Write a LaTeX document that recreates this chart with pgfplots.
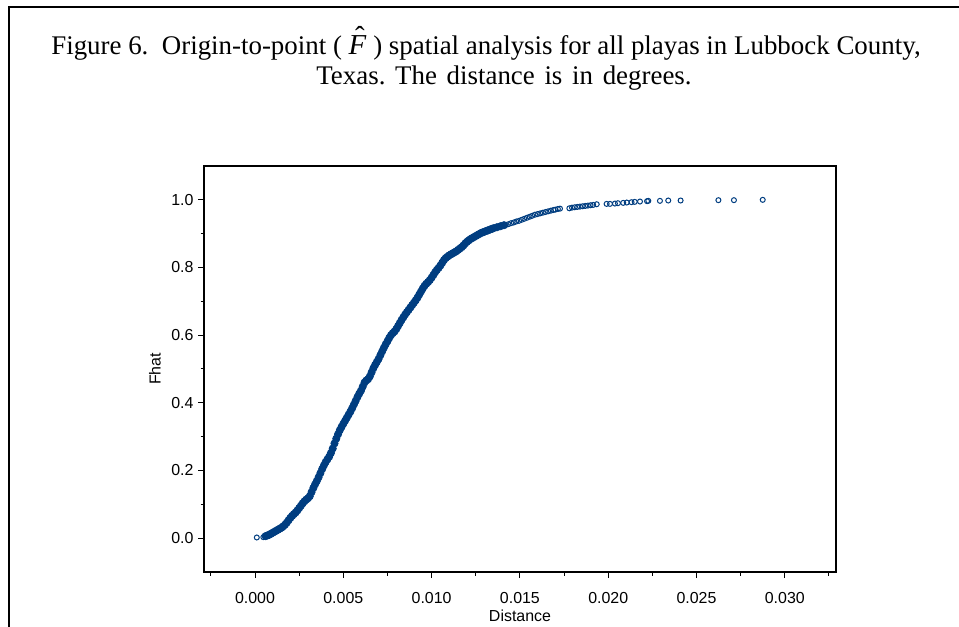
\documentclass[border=0pt]{standalone}
\usepackage{fontspec}
\setmainfont{Liberation Sans}
\newfontfamily\titlefont{Liberation Serif}
\usepackage{pgfplots}
\pgfplotsset{compat=1.18}
\definecolor{markblue}{RGB}{0,61,128}
\frenchspacing
\newcommand{\Fhat}{{\fontsize{29}{32}\selectfont\makebox[0pt][l]{\itshape F}\makebox[0.62em][c]{\hspace{0.16em}\raisebox{0.30em}{\char"02C6}}}}
\begin{document}
\begin{tikzpicture}
\useasboundingbox (0,0) rectangle (959bp,627bp);
\draw[line width=2.2bp] (9bp,-2bp) -- (9bp,620bp) -- (962bp,620bp);
\node[anchor=base, inner sep=0pt, font=\titlefont\fontsize{27}{32}\selectfont] at (486bp,572bp) {Figure 6.\ \ Origin-to-point ( \Fhat\ ) spatial analysis for all playas in Lubbock County,};
\node[anchor=base, inner sep=0pt, font=\titlefont\fontsize{27}{32}\selectfont] at (504bp,542bp) {\spaceskip=0.36em Texas. The distance is in degrees.};
\begin{axis}[
  at={(204bp,55bp)}, anchor=south west,
  scale only axis, width=632bp, height=406bp,
  xmin=-0.00289, xmax=0.0329, ymin=-0.1, ymax=1.1,
  axis line style={line width=1.5bp},
  tick align=outside, xtick pos=bottom, ytick pos=left,
  major tick length=6bp, minor tick length=3.5bp,
  every tick/.style={black, line width=1bp},
  xtick={0,0.005,0.01,0.015,0.02,0.025,0.03},
  minor xtick={-0.0025,0.0025,0.0075,0.0125,0.0175,0.0225,0.0275,0.0325},
  ytick={0,0.2,0.4,0.6,0.8,1.0},
  minor ytick={0.1,0.3,0.5,0.7,0.9},
  scaled x ticks=false, scaled y ticks=false,
  /pgf/number format/assume math mode=true,
  xticklabel={\pgfmathprintnumber[fixed,fixed zerofill,precision=3,assume math mode=true]{\tick}},
  yticklabel={\pgfmathprintnumber[fixed,fixed zerofill,precision=1,assume math mode=true]{\tick}},
  tick label style={font=\fontsize{16}{18}\selectfont},
  xticklabel style={yshift=-11bp},
  yticklabel style={xshift=-1bp},
  label style={font=\fontsize{16}{18}\selectfont},
  xlabel={Distance}, ylabel={Fhat},
  xlabel style={at={(axis description cs:0.5,-0.0936)}, anchor=north, inner sep=0pt},
  ylabel style={at={(axis description cs:-0.0775,0.5)}, anchor=center, inner sep=0pt},
]
\addplot[only marks, mark=*, mark size=3.6bp, color=markblue, mark options={line width=0.8bp}] coordinates {
(0.0006,0.006) (0.0007,0.008) (0.0008,0.010) (0.0009,0.013) (0.0010,0.016)
(0.0011,0.019) (0.0012,0.022) (0.0013,0.025) (0.0014,0.028) (0.0015,0.031)
(0.0016,0.035) (0.0017,0.040) (0.0018,0.046) (0.0019,0.053) (0.0020,0.060)
(0.0021,0.066) (0.0022,0.071) (0.0023,0.076) (0.0024,0.082) (0.0025,0.089)
(0.0026,0.096) (0.0027,0.103) (0.0028,0.109) (0.0029,0.114) (0.0030,0.118)
(0.0031,0.124) (0.0032,0.136) (0.0033,0.148) (0.0034,0.159) (0.0035,0.169)
(0.0036,0.180) (0.0037,0.192) (0.0038,0.204) (0.0039,0.215) (0.0040,0.225)
(0.0041,0.233) (0.0042,0.241) (0.0043,0.252) (0.0044,0.265) (0.0045,0.280)
(0.0046,0.294) (0.0047,0.307) (0.0048,0.319) (0.0049,0.329) (0.0050,0.338)
(0.0051,0.347) (0.0052,0.356) (0.0053,0.365) (0.0054,0.374) (0.0055,0.384)
(0.0056,0.395) (0.0057,0.406) (0.0058,0.417) (0.0059,0.427) (0.0060,0.436)
(0.0061,0.448) (0.0062,0.460) (0.0063,0.466) (0.0064,0.470) (0.0065,0.478)
(0.0066,0.490) (0.0067,0.502) (0.0068,0.512) (0.0069,0.521) (0.0070,0.530)
(0.0071,0.541) (0.0072,0.552) (0.0073,0.563) (0.0074,0.573) (0.0075,0.582)
(0.0076,0.592) (0.0077,0.600) (0.0078,0.606) (0.0079,0.611) (0.0080,0.618)
(0.0081,0.627) (0.0082,0.636) (0.0083,0.645) (0.0084,0.653) (0.0085,0.661)
(0.0086,0.668) (0.0087,0.675) (0.0088,0.682) (0.0089,0.689) (0.0090,0.696)
(0.0091,0.703) (0.0092,0.711) (0.0093,0.720) (0.0094,0.729) (0.0095,0.738)
(0.0096,0.746) (0.0097,0.752) (0.0098,0.757) (0.0099,0.763) (0.0100,0.770)
(0.0101,0.778) (0.0102,0.786) (0.0103,0.793) (0.0104,0.799) (0.0105,0.806)
(0.0106,0.814) (0.0107,0.822) (0.0108,0.828) (0.0109,0.832) (0.0110,0.836)
(0.0111,0.839) (0.0112,0.842) (0.0113,0.845) (0.0114,0.848) (0.0115,0.852)
(0.0116,0.856) (0.0117,0.860) (0.0118,0.865) (0.0119,0.871) (0.0120,0.876)
(0.0121,0.880) (0.0122,0.884) (0.0123,0.887) (0.0124,0.890) (0.0125,0.893)
(0.0126,0.896) (0.0127,0.899) (0.0128,0.902) (0.0129,0.904) (0.0130,0.906)
(0.0131,0.908) (0.0132,0.910) (0.0133,0.912) (0.0134,0.914) (0.0135,0.916)
(0.0137,0.919) (0.0139,0.922) (0.0141,0.925)
};
\addplot[only marks, mark=o, mark size=2.5bp, color=markblue, mark options={line width=1bp}] coordinates {
(0.0001,0.002) (0.00047,0.003)
(0.0142,0.926)
(0.01435,0.928) (0.0145,0.931) (0.01465,0.933) (0.0148,0.936) (0.01495,0.938)
(0.0151,0.941) (0.01525,0.944) (0.0154,0.947) (0.01555,0.950) (0.0157,0.953)
(0.01585,0.956) (0.0160,0.958) (0.01615,0.960) (0.0163,0.962) (0.01645,0.964)
(0.0166,0.966) (0.01675,0.968) (0.0169,0.970) (0.0170,0.971) (0.01715,0.973)
(0.01727,0.974)
(0.0178,0.975) (0.01795,0.977) (0.0181,0.978) (0.01825,0.979) (0.0184,0.980)
(0.01855,0.981) (0.0187,0.982) (0.01885,0.983) (0.0190,0.984) (0.01915,0.985)
(0.01935,0.987)
(0.01991,0.988) (0.0201,0.988) (0.02038,0.989) (0.02055,0.990) (0.02085,0.991)
(0.02105,0.992) (0.02132,0.993) (0.0215,0.994) (0.0218,0.995) (0.0222,0.996)
(0.02227,0.997) (0.02293,0.997) (0.0234,0.998) (0.0241,0.998) (0.02624,0.999)
(0.02712,0.999) (0.02875,1.000)
};
\end{axis}
\end{tikzpicture}
\end{document}
